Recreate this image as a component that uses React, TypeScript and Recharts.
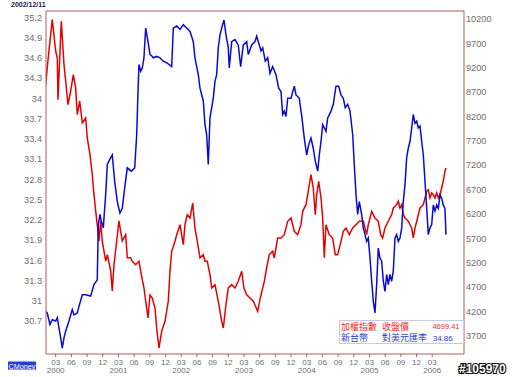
import React from "react";
import {
  LineChart,
  Line,
  XAxis,
  YAxis,
  ReferenceLine,
} from "recharts";

// x values are months since 2000-01 (fractional)
const taiexMonths = [
  0.09, 0.53, 1.35, 2.0, 2.31, 2.44, 3.07, 3.59, 3.91, 4.35,
  4.87, 5.37, 5.82, 6.13, 6.59, 7.09, 7.74, 8.04, 8.56, 9.0,
  9.32, 9.65, 9.95, 10.28, 10.6, 10.91, 11.56, 11.87, 12.52, 12.82,
  13.15, 13.66, 14.1, 14.73, 15.38, 15.69, 16.34, 16.65, 17.3, 17.93,
  18.37, 18.88, 19.21, 19.65, 20.03, 20.47, 20.99, 21.31, 21.75, 22.27,
  22.9, 23.53, 23.85, 24.18, 24.81, 25.14, 25.77, 26.4, 26.72, 27.16,
  27.68, 28.2, 28.63, 28.96, 29.59, 30.22, 30.55, 30.99, 31.5, 31.83,
  32.46, 33.09, 33.74, 34.05, 34.56, 35.0, 35.65, 36.28, 36.91, 37.56,
  38.0, 38.52, 39.15, 39.78, 40.62, 41.12, 41.89, 42.21, 42.84, 43.49,
  43.8, 44.45, 45.08, 45.71, 46.36, 46.99, 47.62, 48.27, 48.9, 49.23,
  49.86, 50.18, 50.81, 51.25, 51.64, 51.9, 52.29, 52.73, 53.05, 53.36,
  53.68, 54.31, 54.96, 55.46, 55.92, 56.55, 56.99, 57.51, 58.14, 58.79,
  59.42, 60.05, 60.81, 61.46, 61.77, 62.42, 63.05, 63.68, 64.14, 64.52,
  64.96, 65.6, 66.24, 66.55, 67.2, 67.51, 67.83, 68.16, 68.46, 68.79,
  69.42, 69.74, 70.07, 70.37, 70.7, 71.03, 71.33, 71.66, 72.29, 72.61,
  72.94, 73.24, 73.57, 73.89, 74.2, 74.52, 74.85, 75.16, 75.48, 75.8,
  76.1, 76.43, 76.62,
];

const taiexClose = [
  8852, 9359, 10186, 9543, 9400, 8544, 10153, 9262, 8927, 8441,
  8722, 9057, 8784, 8236, 8517, 8065, 8168, 7758, 7415, 7004,
  6594, 6259, 5978, 5643, 6054, 5637, 5233, 5362, 5028, 4617,
  5157, 5643, 6054, 5643, 5773, 5300, 5300, 5227, 5157, 5227,
  4952, 4679, 4412, 4063, 4535, 4474, 4268, 3858, 3447, 3790,
  3995, 4406, 5021, 5432, 5637, 5773, 5978, 5567, 5978, 6183,
  6116, 6423, 5910, 5705, 5300, 5362, 5227, 5227, 4952, 4679,
  4747, 4406, 3995, 3858, 4336, 4679, 4747, 4679, 4816, 5021,
  4679, 4541, 4474, 4406, 4201, 4474, 4816, 5021, 5362, 5432,
  5295, 5705, 5705, 5773, 6048, 6116, 5843, 5773, 5978, 6253,
  6389, 6594, 7004, 6731, 6183, 6594, 6869, 6526, 6116, 5300,
  5978, 5773, 5705, 5362, 5362, 5637, 5843, 5910, 5773, 5910,
  5978, 6048, 6048, 5773, 5978, 6253, 6116, 6048, 5773, 5705,
  5910, 6048, 6183, 6321, 6389, 6458, 6321, 6389, 6183, 6116,
  6048, 5978, 5910, 5705, 5910, 6048, 6183, 6321, 6389, 6526,
  6664, 6696, 6526, 6629, 6594, 6526, 6629, 6526, 6594, 6731,
  6869, 7074, 7142,
];

const twdMonths = [
  0.09, 0.39, 0.91, 1.35, 2.0, 2.31, 2.63, 2.96, 3.26, 3.59,
  3.91, 4.54, 5.17, 5.5, 6.13, 6.46, 7.09, 7.74, 8.69, 9.32,
  9.95, 10.15, 10.47, 10.72, 11.1, 11.56, 11.87, 12.52, 12.82, 13.28,
  13.78, 14.29, 14.73, 15.19, 15.69, 16.46, 17.11, 17.49, 17.74, 17.93,
  18.25, 18.56, 18.88, 19.21, 19.65, 20.03, 20.47, 20.66, 21.31, 21.94,
  22.57, 23.34, 24.18, 24.49, 25.14, 25.77, 26.4, 27.03, 27.68, 28.31,
  28.63, 29.27, 29.59, 30.22, 30.55, 30.87, 31.18, 31.5, 31.83, 32.13,
  32.46, 32.78, 33.09, 33.42, 33.74, 34.18, 34.56, 35.0, 35.19, 35.65,
  36.28, 36.91, 37.37, 37.87, 38.52, 38.83, 39.48, 40.11, 40.43, 40.93,
  41.25, 41.58, 42.08, 42.54, 42.98, 43.49, 44.12, 44.64, 45.08, 45.4,
  45.71, 46.03, 46.36, 46.99, 47.62, 47.95, 48.58, 49.09, 49.53, 49.99,
  50.37, 50.81, 51.25, 51.64, 52.1, 52.4, 52.73, 53.05, 53.68, 54.01,
  54.64, 55.08, 55.59, 56.11, 56.55, 56.99, 57.37, 57.83, 58.27, 58.79,
  59.09, 59.42, 59.74, 60.05, 60.5, 60.81, 61.14, 61.46, 61.77, 62.1,
  62.42, 62.73, 63.05, 63.37, 63.68, 64.01, 64.33, 64.64, 64.96, 65.29,
  65.6, 65.92, 66.24, 66.55, 66.88, 67.2, 67.51, 67.83, 68.16, 68.46,
  68.79, 69.11, 69.42, 69.74, 70.07, 70.37, 70.7, 71.03, 71.33, 71.66,
  71.98, 72.29, 72.61, 72.94, 73.24, 73.57, 73.89, 74.2, 74.52, 74.85,
  75.16, 75.48, 75.8, 76.1, 76.43, 76.62,
];

const twdRate = [
  30.84, 30.82, 30.65, 30.72, 30.7, 30.75, 30.6, 30.45, 30.3, 30.45,
  30.55, 30.7, 30.87, 30.79, 30.82, 30.92, 31.09, 31.09, 31.07, 31.24,
  31.31, 32.13, 32.28, 32.18, 32.08, 32.57, 33.02, 33.12, 33.16, 32.77,
  32.47, 32.3, 32.37, 32.67, 32.97, 32.92, 32.97, 33.46, 34.1, 34.5,
  34.4, 34.45, 34.6, 35.04, 34.84, 34.65, 34.62, 34.6, 34.62, 34.6,
  34.55, 34.52, 34.47, 35.04, 35.07, 35.02, 35.09, 35.04, 34.99, 34.84,
  34.6, 34.35, 34.15, 33.96, 33.61, 33.46, 33.02, 33.71, 33.86, 34.0,
  34.25, 34.35, 34.75, 34.94, 35.04, 35.16, 34.94, 34.75, 34.45, 34.84,
  34.87, 34.79, 34.47, 34.79, 34.84, 34.65, 34.79, 34.84, 34.92, 34.79,
  34.7, 34.75, 34.55, 34.6, 34.37, 34.47, 34.35, 34.15, 34.1, 33.76,
  33.81, 33.73, 34.0, 34.0, 34.18, 34.05, 34.0, 33.71, 33.41, 33.16,
  33.31, 33.41, 33.26, 33.07, 32.92, 33.16, 33.36, 33.61, 33.51, 33.71,
  33.81, 33.91, 34.18, 34.18, 34.05, 34.0, 33.86, 33.91, 33.81, 33.46,
  33.02, 32.57, 32.28, 32.47, 32.28, 32.08, 31.98, 31.88, 31.93, 31.63,
  31.29, 30.99, 30.82, 31.24, 31.78, 31.63, 31.59, 31.29, 31.14, 31.39,
  31.24, 31.39, 31.29, 31.44, 31.93, 31.98, 31.88, 31.93, 32.08, 32.47,
  32.72, 33.12, 33.26, 33.36, 33.56, 33.76, 33.63, 33.66, 33.56, 33.59,
  33.36, 33.16, 32.77, 32.37, 31.98, 32.08, 32.13, 32.42, 32.33, 32.42,
  32.37, 32.57, 32.52, 32.42, 32.37, 31.98,
];

const leftTicks = [30.7, 31, 31.3, 31.6, 31.9, 32.2, 32.5, 32.8, 33.1, 33.4, 33.7, 34, 34.3, 34.6, 34.9, 35.2];
const rightTicks = [3700, 4200, 4700, 5200, 5700, 6200, 6700, 7200, 7700, 8200, 8700, 9200, 9700, 10200];
const monthTicks = [
  2, 5, 8, 11, 14, 17, 20, 23, 26, 29, 32, 35, 38, 41, 44, 47, 50, 53, 56, 59, 62, 65, 68, 71, 74,
];
const monthLabels = ["03", "06", "09", "12"];
const yearLabels = ["2000", "2001", "2002", "2003", "2004", "2005", "2006"];

const X_DOMAIN: [number, number] = [0.15, 80.07];
const LEFT_DOMAIN: [number, number] = [30.212, 35.293];
const RIGHT_DOMAIN: [number, number] = [3324, 10364];

const FRAME = "#b45a5a";
const AXIS_TEXT = "#6e6e6e";
const FONT = "'Liberation Sans', Arial, sans-serif";
const CJK = "'Noto Sans CJK TC', 'Noto Sans CJK SC', sans-serif";

const taiexRows = taiexMonths.map((t, i) => ({ t, v: taiexClose[i] }));
const twdRows = twdMonths.map((t, i) => ({ t, v: twdRate[i] }));

function MonthTick(props: any) {
  const { x, y, payload } = props;
  const idx = monthTicks.indexOf(payload.value);
  const label = monthLabels[idx % 4];
  const year = idx % 4 === 0 ? yearLabels[idx / 4] : null;
  return (
    <g>
      <text x={x} y={y + 5.5} textAnchor="middle" fontSize={8} fill={AXIS_TEXT} fontFamily={FONT}>
        {label}
      </text>
      {year && (
        <text x={x} y={y + 14.3} textAnchor="middle" fontSize={8} fill={AXIS_TEXT} fontFamily={FONT}>
          {year}
        </text>
      )}
    </g>
  );
}

export default function App() {
  return (
    <div style={{ position: "absolute", left: 0, top: 0, width: 513, height: 377, background: "#fff" }}>
      <LineChart width={513} height={377} margin={{ top: 11, right: 0, bottom: 0, left: 0 }}>
        <XAxis
          dataKey="t"
          type="number"
          domain={X_DOMAIN}
          ticks={monthTicks}
          interval={0}
          allowDataOverflow
          height={23}
          tickSize={3}
          tickMargin={2}
          axisLine={{ stroke: FRAME }}
          tickLine={{ stroke: FRAME }}
          tick={<MonthTick />}
        />
        <YAxis
          yAxisId="left"
          orientation="left"
          width={46}
          domain={LEFT_DOMAIN}
          ticks={leftTicks}
          interval={0}
          allowDataOverflow
          tickSize={0}
          tickMargin={4}
          tickLine={false}
          axisLine={{ stroke: FRAME }}
          tick={{ fontSize: 9.2, fill: AXIS_TEXT, fontFamily: FONT }}
        />
        <YAxis
          yAxisId="right"
          orientation="right"
          width={49}
          domain={RIGHT_DOMAIN}
          ticks={rightTicks}
          interval={0}
          allowDataOverflow
          tickSize={0}
          tickMargin={2}
          tickLine={false}
          axisLine={{ stroke: FRAME }}
          tick={{ fontSize: 9.2, fill: AXIS_TEXT, fontFamily: FONT }}
        />
        <ReferenceLine yAxisId="left" y={LEFT_DOMAIN[1]} stroke={FRAME} ifOverflow="visible" />
        <Line
          yAxisId="right"
          data={taiexRows}
          dataKey="v"
          stroke="#e60000"
          strokeWidth={1.5}
          dot={false}
          isAnimationActive={false}
        />
        <Line
          yAxisId="left"
          data={twdRows}
          dataKey="v"
          stroke="#0a0ad2"
          strokeWidth={1.5}
          dot={false}
          isAnimationActive={false}
        />
      </LineChart>
      <svg
        width={513}
        height={377}
        style={{ position: "absolute", left: 0, top: 0, pointerEvents: "none" }}
      >
        <text x={11} y={7} fontSize={7} fontWeight="bold" fill="#1c1c50" fontFamily={FONT}>
          2002/12/11
        </text>
        <rect x={339.5} y={320.5} width={124} height={23} fill="#fff" stroke="#c7cbe2" />
        <text x={341} y={329.5} fontSize={9} fill="#e8302a" fontFamily={CJK}>加權指數</text>
        <text x={382} y={329.5} fontSize={9} fill="#e8302a" fontFamily={CJK}>收盤價</text>
        <text x={459.5} y={329} fontSize={7.5} fill="#e8302a" textAnchor="end" fontFamily={FONT}>4699.41</text>
        <text x={341} y={341} fontSize={9} fill="#2440c8" fontFamily={CJK}>新台幣</text>
        <text x={382} y={341} fontSize={9} fill="#2440c8" fontFamily={CJK}>對美元匯率</text>
        <text x={432.7} y={340.5} fontSize={8} fill="#2440c8" fontFamily={FONT}>34.86</text>
        <rect x={8} y={361.5} width={28} height={8.5} fill="#2a3fd0" />
        <text x={22} y={368.5} fontSize={7.2} fill="#fff" textAnchor="middle" fontFamily={FONT} textDecoration="underline">
          CMoney
        </text>
        <text
          x={459}
          y={373}
          fontSize={12}
          fontWeight="bold"
          fill="#fff"
          stroke="#111"
          strokeWidth={2.2}
          paintOrder="stroke"
          fontFamily={FONT}
        >
          #105970
        </text>
      </svg>
    </div>
  );
}
